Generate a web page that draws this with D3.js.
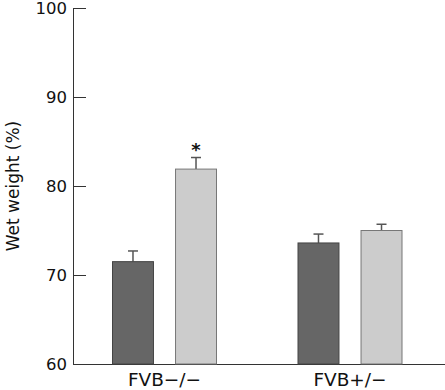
<!DOCTYPE html>
<html><head><meta charset="utf-8">
<script src="https://cdn.jsdelivr.net/npm/d3@7"></script>
<style>body{margin:0;background:#fff}svg{display:block}text{font-family:"DejaVu Sans",sans-serif;fill:#111}</style>
</head><body><svg id="c" width="445" height="390"></svg>
<script>
const categories = ["FVB\u2212/\u2212", "FVB+/\u2212"];
const series = ["control", "treated"];
const means = [[71.5, 81.9], [73.6, 75.0]];
const errors = [[1.2, 1.3], [1.0, 0.7]];
const marks = [["", "*"], ["", ""]];
const yTicks = [60, 70, 80, 90, 100];
const colors = ["#666666", "#cccccc"];
const strokes = ["#444444", "#777777"];

const svg = d3.select("#c");
const y = d3.scaleLinear().domain([60, 100]).range([364, 8]);
const x0 = d3.scalePoint().domain(categories).range([164.5, 350]);
const x1 = d3.scaleBand().domain(series).range([-52, 52]).paddingInner(0.35);

// y axis
const yAxis = d3.axisRight(y).tickValues(yTicks).tickSize(13).tickFormat(d3.format("d"));
const gy = svg.append("g").attr("transform", "translate(73,0)").call(yAxis);
gy.select(".domain").attr("stroke", "#333").attr("d", "M0.5,8V364");
gy.selectAll(".tick line").attr("stroke", "#333");
gy.selectAll(".tick text").attr("x", -6).attr("text-anchor", "end").attr("font-size", 16.5).attr("fill", "#111").attr("dy", "0.36em");

// x axis baseline
svg.append("line").attr("x1", 73).attr("x2", 445).attr("y1", y(60) + 0.5).attr("y2", y(60) + 0.5).attr("stroke", "#333");

// category labels
svg.selectAll(".cat").data(categories).enter().append("text")
  .attr("x", d => x0(d)).attr("y", 386).attr("text-anchor", "middle").attr("font-size", 18.5).text(d => d);

// y label
svg.append("text").attr("transform", "translate(19,186) rotate(-90)").attr("text-anchor", "middle")
  .attr("font-size", 17).text("Wet weight (%)");

// bars
categories.forEach((c, i) => {
  series.forEach((s, j) => {
    const bx = x0(c) + x1(s);
    const bw = x1.bandwidth();
    const cx = bx + bw / 2;
    const top = y(means[i][j] + errors[i][j]);
    svg.append("line").attr("x1", cx).attr("x2", cx).attr("y1", top).attr("y2", y(means[i][j])).attr("stroke", "#555").attr("stroke-width", 1.5);
    svg.append("line").attr("x1", cx - 5).attr("x2", cx + 5).attr("y1", top).attr("y2", top).attr("stroke", "#555").attr("stroke-width", 1.5);
    svg.append("rect").attr("x", bx).attr("y", y(means[i][j])).attr("width", bw).attr("height", y(60) - y(means[i][j]))
      .attr("fill", colors[j]).attr("stroke", strokes[j]).attr("stroke-width", 1);
    if (marks[i][j]) {
      svg.append("text").attr("x", cx).attr("y", top - 2).attr("text-anchor", "middle").attr("font-size", 18).attr("font-weight", "bold").text(marks[i][j]);
    }
  });
});
</script></body></html>
